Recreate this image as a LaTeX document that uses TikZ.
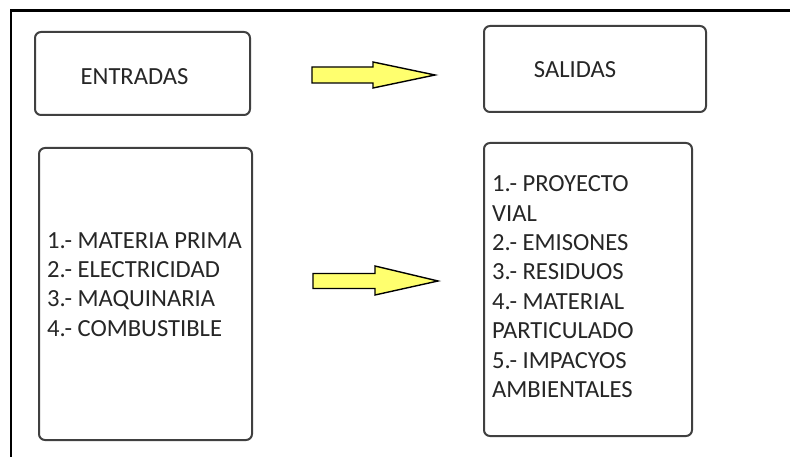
\documentclass[tikz,border=0pt]{standalone}
\usepackage{fontspec}
\setmainfont{Carlito}
\definecolor{boxline}{HTML}{404040}
\definecolor{txt}{HTML}{262626}
\definecolor{arrowfill}{HTML}{FFFF6E}
\begin{document}
\begin{tikzpicture}[x=1pt,y=-1pt,
  box/.style={draw=boxline,line width=2pt,rounded corners=6pt,fill=white,inner sep=0pt},
  lbl/.style={inner sep=0pt,text=txt,font=\fontsize{24.6}{29.4}\selectfont},
  lst/.style={lbl,align=left,anchor=north west},
  blockarrow/.style={draw=black,line width=1.4pt,fill=arrowfill,line join=miter}]
\useasboundingbox (0,0) rectangle (790,457);
% frame
\draw[line width=2.5pt] (11,457) -- (11,10.5) -- (790,10.5);
% boxes
\node[box,minimum width=215pt,minimum height=83pt] (entBox) at (142.5,73.5) {};
\node[box,minimum width=222pt,minimum height=86pt] (salBox) at (595,69) {};
\node[box,minimum width=213pt,minimum height=292pt] (inBox) at (145.5,294) {};
\node[box,minimum width=208pt,minimum height=293pt] (outBox) at (588,289.5) {};
% titles
\node[lbl] (entTxt) at (134.5,77) {ENTRADAS};
\node[lbl] (salTxt) at (575,70) {SALIDAS};
% lists
\node[lst] (inTxt) at (47,232) {1.- MATERIA PRIMA\\2.- ELECTRICIDAD\\3.- MAQUINARIA\\4.- COMBUSTIBLE};
\node[lst] (outTxt) at (492,175.5) {1.- PROYECTO\\VIAL\\2.- EMISONES\\3.- RESIDUOS\\4.- MATERIAL\\PARTICULADO\\5.- IMPACYOS\\AMBIENTALES};
% block arrows
\draw[blockarrow] (312,67) -- (373,67) -- (373,62) -- (435,75) -- (373,88) -- (373,83) -- (312,83) -- cycle;
\draw[blockarrow] (313,273.5) -- (375,273.5) -- (375,266) -- (438,281) -- (375,295) -- (375,288.5) -- (313,288.5) -- cycle;
\end{tikzpicture}
\end{document}
